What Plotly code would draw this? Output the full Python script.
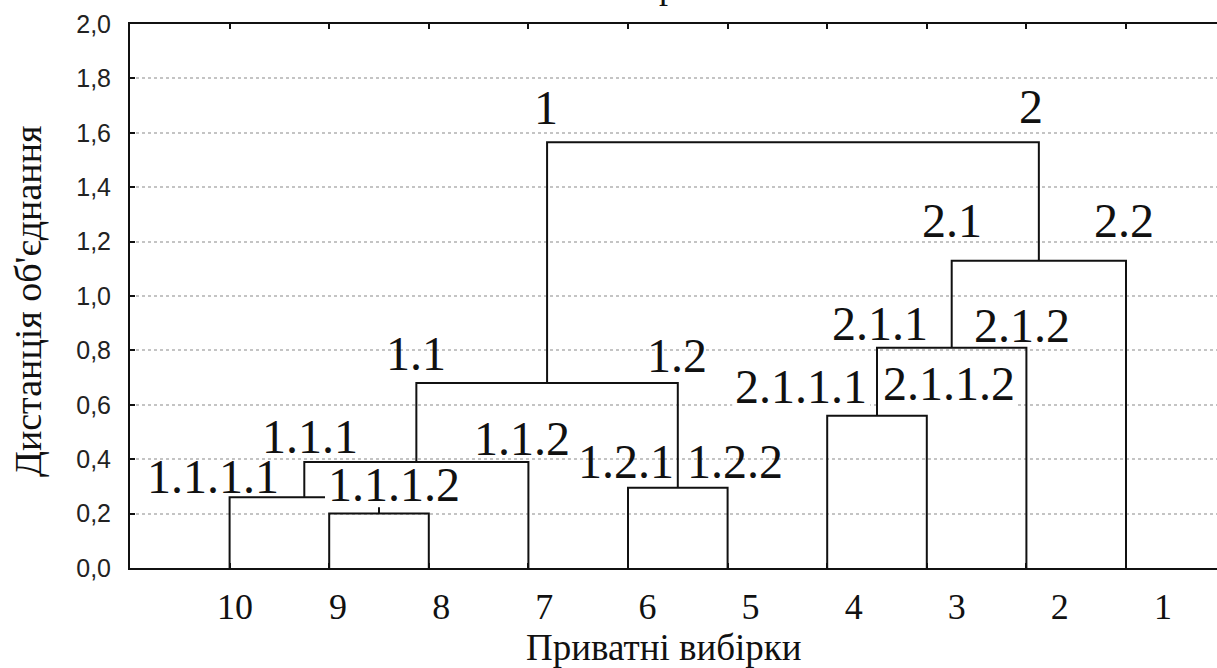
import plotly.graph_objects as go

# Leaves from left to right, and the merges that build the tree:
# left child, right child, joining distance (merges are named m1, m2, ...)
leaf_order = ["10", "9", "8", "7", "6", "5", "4", "3", "2", "1"]
merge_left = ["9", "10", "m2", "6", "m3", "4", "m6", "m7", "m5"]
merge_right = ["8", "m1", "7", "5", "m4", "3", "2", "1", "m8"]
merge_height = [0.20, 0.26, 0.39, 0.295, 0.68, 0.56, 0.81, 1.13, 1.565]

# Cluster names and the tree node each one marks
cluster_text = ["1", "2", "1.1", "1.2", "1.1.1", "1.1.2", "1.1.1.1", "1.1.1.2",
                "1.2.1", "1.2.2", "2.1", "2.2", "2.1.1", "2.1.2", "2.1.1.1", "2.1.1.2"]
cluster_node = ["m5", "m8", "m3", "m4", "m2", "7", "10", "m1",
                "6", "5", "m7", "1", "m6", "2", "4", "3"]

y_ticks = [0.0, 0.2, 0.4, 0.6, 0.8, 1.0, 1.2, 1.4, 1.6, 1.8, 2.0]

x_title = "Приватні вибірки"
y_title = "Дистанція об'єднання"

# ---- layout settings -------------------------------------------------------
W, H = 1217, 668
ML, MT, MB = 130, 24, 100
SERIF = "Liberation Serif, Times New Roman, serif"
SANS = "Liberation Sans, Arial, sans-serif"
INK = "#111111"
LABEL_SIZE = 48

# pixel offsets of each cluster name from (node x, parent height)
label_shift = {
    "1": (-1, 35), "2": (-8, 36), "1.1": (0, 30), "1.2": (-1, 28),
    "1.1.1": (6, 25), "1.1.2": (-6, 23), "1.1.1.1": (-17, 21), "1.1.1.2": (15, 13),
    "1.2.1": (-2, 26), "1.2.2": (7, 26), "2.1": (0, 40), "2.2": (-2, 40),
    "2.1.1": (3, 24), "2.1.2": (-4, 22), "2.1.1.1": (-26, 29), "2.1.1.2": (22, 32),
}
# names drawn on a white backdrop that hides the lines behind them
backed_labels = ["1.1.1.2", "2.1.1.1", "2.1.1.2"]


def text_width(s, size):
    # serif digits are half an em wide, full stops a quarter
    return sum(0.25 if ch == "." else 0.5 for ch in s) * size


# ---- dendrogram geometry -------------------------------------------------------
pos = {name: i + 1 for i, name in enumerate(leaf_order)}
height = {name: 0.0 for name in leaf_order}
parent_height = {}
xs, ys = [], []
for k, (l, r, h) in enumerate(zip(merge_left, merge_right, merge_height), start=1):
    node = f"m{k}"
    xs += [pos[l], pos[l], pos[r], pos[r], None]
    ys += [height[l], h, h, height[r], None]
    pos[node] = (pos[l] + pos[r]) / 2
    height[node] = h
    parent_height[l] = h
    parent_height[r] = h

fig = go.Figure()
fig.add_trace(go.Scatter(
    x=xs, y=ys, mode="lines",
    line=dict(color=INK, width=2),
    hoverinfo="skip", showlegend=False,
))
# invisible trace tying the label axis into the figure
fig.add_trace(go.Scatter(
    x=[pos[n] for n in leaf_order], y=[0] * len(leaf_order),
    xaxis="x2", mode="markers", marker=dict(opacity=0),
    hoverinfo="skip", showlegend=False,
))

shapes = []
annotations = []
for text, node in zip(cluster_text, cluster_node):
    dx, dy = label_shift[text]
    annotations.append(dict(
        x=pos[node], y=parent_height[node], xref="x", yref="y",
        text=text, showarrow=False, xanchor="center", yanchor="middle",
        xshift=dx, yshift=dy,
        font=dict(family=SERIF, size=LABEL_SIZE, color=INK),
    ))
    if text in backed_labels:
        half = text_width(text, LABEL_SIZE) / 2 + 3
        shapes.append(dict(
            type="rect", layer="above",
            xref="x", xsizemode="pixel", xanchor=pos[node],
            x0=dx - half, x1=dx + half,
            yref="y", ysizemode="pixel", yanchor=parent_height[node],
            y0=dy - 0.48 * LABEL_SIZE, y1=dy + 0.36 * LABEL_SIZE,
            fillcolor="white", line=dict(width=0),
        ))

plot_h = H - MT - MB
plot_w = W - ML
annotations.append(dict(
    x=(664 - ML) / plot_w, y=-(647 - (H - MB)) / plot_h, xref="paper", yref="paper",
    text=x_title, showarrow=False, xanchor="center", yanchor="middle",
    font=dict(family=SERIF, size=37, color=INK),
))
annotations.append(dict(
    x=-(ML - 28) / plot_w, y=((H - MB) - 302) / plot_h, xref="paper", yref="paper",
    text=y_title, textangle=-90, showarrow=False, xanchor="center", yanchor="middle",
    font=dict(family=SERIF, size=38, color=INK),
))
# clipped heading fragment at the very top edge
annotations.append(dict(
    x=(657 - ML) / plot_w, y=1 + (MT - 8) / plot_h, xref="paper", yref="paper",
    text="р", showarrow=False, xanchor="left", yanchor="bottom",
    font=dict(family=SERIF, size=36, color=INK),
))

x_max = plot_w / 99.6
fig.update_layout(
    width=W, height=H,
    margin=dict(l=ML, r=0, t=MT, b=MB, autoexpand=False),
    paper_bgcolor="white", plot_bgcolor="white",
    separators=", ",
    showlegend=False,
    annotations=annotations,
    shapes=shapes,
    xaxis=dict(
        range=[0, x_max], tickvals=[pos[n] for n in leaf_order],
        showticklabels=False, ticks="inside", ticklen=5, tickwidth=2, tickcolor=INK,
        showline=True, linewidth=2, linecolor=INK, mirror="ticks",
        showgrid=False, zeroline=False, fixedrange=True,
    ),
    xaxis2=dict(
        overlaying="x", anchor="y", side="bottom",
        range=[-0.0184, 10.524],
        tickvals=[pos[n] for n in leaf_order], ticktext=leaf_order,
        ticks="", showline=False, showgrid=False, zeroline=False,
        ticklabelstandoff=14,
        tickfont=dict(family=SERIF, size=36, color=INK),
    ),
    yaxis=dict(
        range=[0, 2.0], tickvals=y_ticks, tickformat=".1f",
        ticks="inside", ticklen=5, tickwidth=2, tickcolor=INK,
        showline=True, linewidth=2, linecolor=INK,
        showgrid=True, gridcolor="#c4c4c4", gridwidth=2, griddash="dot",
        zeroline=False, ticklabelstandoff=12,
        tickfont=dict(family=SANS, size=25, color="#222222"),
    ),
)

fig.write_html("out.html")
